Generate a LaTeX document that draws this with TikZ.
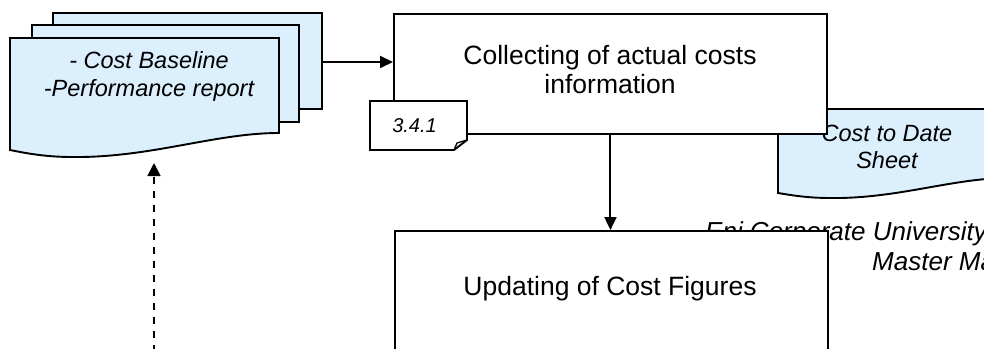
\documentclass[tikz,border=0pt]{standalone}
\usepackage{fontspec}
\setmainfont{Liberation Sans}
\usetikzlibrary{arrows.meta}
\definecolor{docfill}{RGB}{219,239,253}
\begin{document}
\begin{tikzpicture}[x=1pt,y=-1pt,
  outline/.style={draw=black,line width=1.9pt,line join=miter},
  docsheet/.style={outline,fill=docfill},
  procbox/.style={outline,fill=white,inner sep=0pt,anchor=north west},
  flow/.style={line width=2pt,-{Triangle[length=13pt,width=12pt]}},
  dashflow/.style={line width=1.8pt,dash pattern=on 7pt off 7pt,-{Triangle[length=13pt,width=13pt]}},
  bigtext/.style={inner sep=0pt,align=center,font=\fontsize{26.5}{29}\selectfont},
  doctext/.style={inner sep=0pt,align=center,font=\fontsize{23.5}{28}\selectfont\itshape},
]
\useasboundingbox (0,0) rectangle (984,348);

% stacked input documents
\path[docsheet] (53,13) rectangle (322,109);
\path[docsheet] (32,25) rectangle (299,122);
\path[docsheet] (10,38) -- (279,38) -- (279,133)
  .. controls (215,133) and (150,158) .. (72,157)
  .. controls (45,157) and (25,153) .. (10,150) -- cycle;
% base anchor of a multi-line node sits on its last line
\node[doctext,anchor=base] (inputs) at (149,96) {- Cost Baseline\\-Performance report};
\coordinate (stackout) at (322,62);
\coordinate (feedin) at (154,163);
\coordinate (feedsrc) at (154,352);

% output document
\path[docsheet] (778,109) -- (1008,109) -- (1008,178)
  .. controls (953,178) and (897,199) .. (830,198)
  .. controls (807,198) and (790,195) .. (778,193) -- cycle;
\node[doctext,anchor=base,font=\fontsize{23.5}{26.5}\selectfont\itshape] (ctd) at (887,168) {Cost to Date\\Sheet};

% footer text
\node[inner sep=0pt,anchor=base west,font=\fontsize{26}{29}\selectfont\itshape] (eni) at (705,240) {Eni Corporate University};
\node[inner sep=0pt,anchor=base west,font=\fontsize{26}{29}\selectfont\itshape] (master) at (872,270) {Master Ma};

% process boxes
\node[procbox,minimum width=433pt,minimum height=120pt] (collect) at (393,13) {};
\node[bigtext,anchor=base] (collecttxt) at (610,93) {Collecting of actual costs\\information};

\path[outline,fill=white] (370,101) -- (467,101) -- (467,140) -- (454,150) -- (370,150) -- cycle;
\path[outline,line width=1.3pt] (454,150) -- (457,143) -- (467,140);
\node[inner sep=0pt,anchor=base,font=\fontsize{20}{24}\selectfont\itshape] (tag) at (414.5,132) {3.4.1};

\node[procbox,minimum width=433pt,minimum height=140pt] (update) at (394,230) {};
\node[bigtext,anchor=base] (updatetxt) at (610,295) {Updating of Cost Figures};

% connectors
\draw[flow] (stackout) -- (stackout -| collect.west);
\draw[flow] (collect.south) -- (collect.south |- update.north);
\draw[dashflow] (feedsrc) -- (feedin);
\end{tikzpicture}
\end{document}
